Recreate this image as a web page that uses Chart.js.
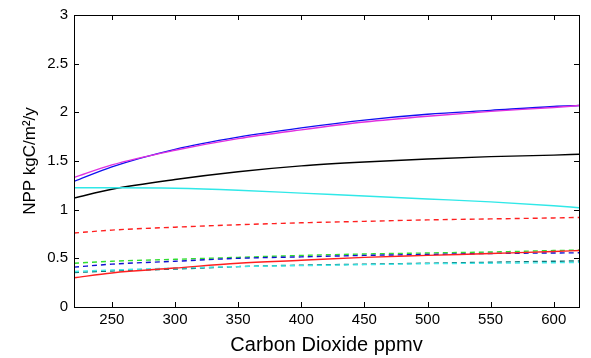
<!DOCTYPE html>
<html>
<head>
<meta charset="utf-8">
<script src="https://cdn.jsdelivr.net/npm/chart.js@4/dist/chart.umd.min.js"></script>
<style>
  html, body { margin: 0; padding: 0; background: #fff; }
  #wrap { width: 591px; height: 358px; }
</style>
</head>
<body>
<div id="wrap"><canvas id="nppChart"></canvas></div>
<script>
// CO2 levels (ppmv) the curves are sampled at
const co2 = [220, 250, 300, 350, 400, 450, 500, 550, 600, 620];

// NPP kgC/m2/y, solid curves
const blueSolid    = [1.29, 1.44, 1.62, 1.745, 1.84, 1.92, 1.98, 2.02, 2.06, 2.07];
const magentaSolid = [1.33, 1.46, 1.61, 1.73, 1.82, 1.90, 1.96, 2.01, 2.05, 2.07];
const blackSolid   = [1.12, 1.21, 1.31, 1.39, 1.45, 1.49, 1.52, 1.545, 1.56, 1.57];
const cyanSolid    = [1.225, 1.225, 1.22, 1.20, 1.17, 1.14, 1.11, 1.08, 1.04, 1.02];
const redSolid     = [0.30, 0.35, 0.40, 0.45, 0.48, 0.51, 0.53, 0.55, 0.57, 0.58];

// dashed curves
const redDashed    = [0.76, 0.79, 0.82, 0.845, 0.865, 0.88, 0.895, 0.905, 0.915, 0.92];
const greenDashed  = [0.45, 0.47, 0.49, 0.51, 0.53, 0.545, 0.555, 0.565, 0.58, 0.585];
const blueDashed   = [0.41, 0.44, 0.47, 0.50, 0.515, 0.53, 0.54, 0.55, 0.555, 0.557];
const tealDashed   = [0.355, 0.37, 0.39, 0.415, 0.43, 0.44, 0.45, 0.46, 0.47, 0.473];
const cyanDashed   = [0.365, 0.38, 0.40, 0.415, 0.425, 0.435, 0.445, 0.45, 0.455, 0.458];

const xTicks = [250, 300, 350, 400, 450, 500, 550, 600];
const yTicks = [0, 0.5, 1, 1.5, 2, 2.5, 3];

function series(values, color, dashed) {
    return {
        data: values.map((v, i) => ({ x: co2[i], y: v })),
        borderColor: color,
        borderWidth: 1.4,
        borderDash: dashed ? [5, 4] : [],
        pointRadius: 0,
        fill: false,
        cubicInterpolationMode: "monotone"
    };
}

// matlab style box with inward ticks on all four sides
const boxTicks = {
    id: "boxTicks",
    afterDatasetsDraw(chart) {
        const { ctx, chartArea: a, scales } = chart;
        const len = 5;
        ctx.save();
        ctx.strokeStyle = "#000";
        ctx.lineWidth = 1;
        ctx.setLineDash([]);
        ctx.strokeRect(Math.round(a.left) + 0.5, Math.round(a.top) + 0.5,
            Math.round(a.right - a.left), Math.round(a.bottom - a.top));
        ctx.beginPath();
        xTicks.forEach(v => {
            const x = Math.round(scales.x.getPixelForValue(v)) + 0.5;
            ctx.moveTo(x, a.bottom); ctx.lineTo(x, a.bottom - len);
            ctx.moveTo(x, a.top); ctx.lineTo(x, a.top + len);
        });
        yTicks.forEach(v => {
            const y = Math.round(scales.y.getPixelForValue(v)) + 0.5;
            ctx.moveTo(a.left, y); ctx.lineTo(a.left + len, y);
            ctx.moveTo(a.right, y); ctx.lineTo(a.right - len, y);
        });
        ctx.stroke();
        ctx.restore();
    }
};

const font = "'Liberation Sans', Arial, Helvetica, sans-serif";

new Chart(document.getElementById("nppChart"), {
    type: "line",
    data: {
        datasets: [
            series(redSolid, "#ff2020", false),
            series(cyanDashed, "#40e8e8", true),
            series(tealDashed, "#107878", true),
            series(blueDashed, "#1010d0", true),
            series(greenDashed, "#30dd30", true),
            series(redDashed, "#ff2020", true),
            series(cyanSolid, "#30e8e8", false),
            series(blackSolid, "#000000", false),
            series(magentaSolid, "#e030e0", false),
            series(blueSolid, "#1010f0", false)
        ]
    },
    options: {
        responsive: true,
        maintainAspectRatio: false,
        animation: false,
        layout: { padding: { left: 0, right: 12, top: 11, bottom: 0 } },
        plugins: {
            legend: { display: false },
            tooltip: { enabled: false }
        },
        scales: {
            x: {
                type: "linear",
                min: 220,
                max: 620,
                grid: { display: false, drawTicks: false },
                border: { display: false },
                afterBuildTicks: s => { s.ticks = xTicks.map(v => ({ value: v })); },
                afterFit: s => { s.height = 51; },
                ticks: { color: "#000", padding: 4, maxRotation: 0, font: { family: font, size: 15 } },
                title: {
                    display: true,
                    text: "Carbon Dioxide ppmv",
                    color: "#000",
                    padding: { top: 4, bottom: 1 },
                    font: { family: font, size: 20 }
                }
            },
            y: {
                min: 0,
                max: 3,
                grid: { display: false, drawTicks: false },
                border: { display: false },
                afterBuildTicks: s => { s.ticks = yTicks.map(v => ({ value: v })); },
                afterFit: s => { s.width = 74; },
                ticks: {
                    color: "#000",
                    padding: 6,
                    font: { family: font, size: 15 },
                    callback: v => String(v)
                },
                title: {
                    display: true,
                    text: "NPP kgC/m²/y",
                    color: "#000",
                    padding: { top: 20, bottom: 0 },
                    font: { family: font, size: 17 }
                }
            }
        }
    },
    plugins: [boxTicks]
});
</script>
</body>
</html>
